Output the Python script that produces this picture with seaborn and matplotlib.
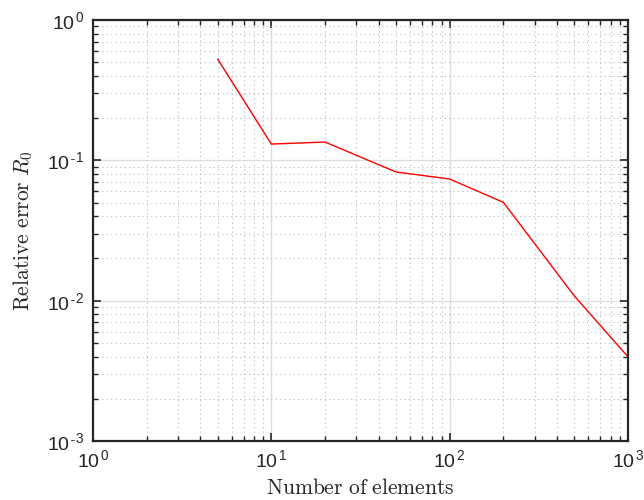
import matplotlib
matplotlib.use("Agg")
import matplotlib.pyplot as plt
import matplotlib.ticker as mticker
import seaborn as sns
import pandas as pd
import numpy as np

# data
n_elements = [5, 10, 20, 50, 100, 200, 500, 1000]
rel_error = [0.527, 0.1306, 0.135, 0.0826, 0.0736, 0.0502, 0.0108, 0.00398]

sns.set_theme(style="ticks")
plt.rcParams['font.family'] = ['Liberation Sans', 'DejaVu Sans']
plt.rcParams['mathtext.fontset'] = 'custom'
plt.rcParams['mathtext.rm'] = 'cmr10'
plt.rcParams['mathtext.it'] = 'cmmi10'
plt.rcParams['mathtext.sf'] = 'Liberation Sans'
plt.rcParams['mathtext.fallback'] = 'cm'

df = pd.DataFrame({'n': n_elements, 'err': rel_error})

fig = plt.figure(figsize=(6.44, 5), dpi=100)
ax = fig.add_axes([0.1444, 0.118, 0.8308, 0.842])
sns.lineplot(data=df, x='n', y='err', color='#ff0000', linewidth=1.0, ax=ax)

ax.set_xscale('log')
ax.set_yscale('log')
ax.set_xlim(1, 1000)
ax.set_ylim(1e-3, 1)

def fmt(v, pos):
    e = int(round(np.log10(v)))
    if e < 0:
        return r'$\mathsf{10^{\,\text{-}%d}}$' % (-e)
    return r'$\mathsf{10^{\,%d}}$' % e

ax.xaxis.set_major_locator(mticker.LogLocator(base=10, numticks=10))
ax.yaxis.set_major_locator(mticker.LogLocator(base=10, numticks=10))
ax.xaxis.set_minor_locator(mticker.LogLocator(base=10, subs=np.arange(2, 10), numticks=20))
ax.yaxis.set_minor_locator(mticker.LogLocator(base=10, subs=np.arange(2, 10), numticks=20))
ax.xaxis.set_major_formatter(mticker.FuncFormatter(fmt))
ax.yaxis.set_major_formatter(mticker.FuncFormatter(fmt))
ax.xaxis.set_minor_formatter(mticker.NullFormatter())
ax.yaxis.set_minor_formatter(mticker.NullFormatter())

ax.grid(True, which='major', color='#dddddd', linestyle='-', linewidth=0.9)
ax.grid(True, which='minor', color='#bbbbbb', linestyle=(0, (1, 3)), linewidth=0.8)
ax.set_axisbelow(True)

ax.tick_params(which='both', direction='in', top=True, right=True, colors='#262626',
               labelcolor='#262626')
ax.tick_params(which='major', length=6, width=1.2, labelsize=14, pad=6)
ax.tick_params(which='minor', length=3.5, width=1.0)
for s in ax.spines.values():
    s.set_linewidth(1.6)
    s.set_color('#262626')

ax.set_xlabel(r'$\mathrm{Number\ of\ elements}$', fontsize=15.5, color='#262626', labelpad=5)
ax.set_ylabel(r'$\mathrm{Relative\ error}\ R_0$', fontsize=15.5, color='#262626', labelpad=9)

fig.savefig('out.png', dpi=100)
